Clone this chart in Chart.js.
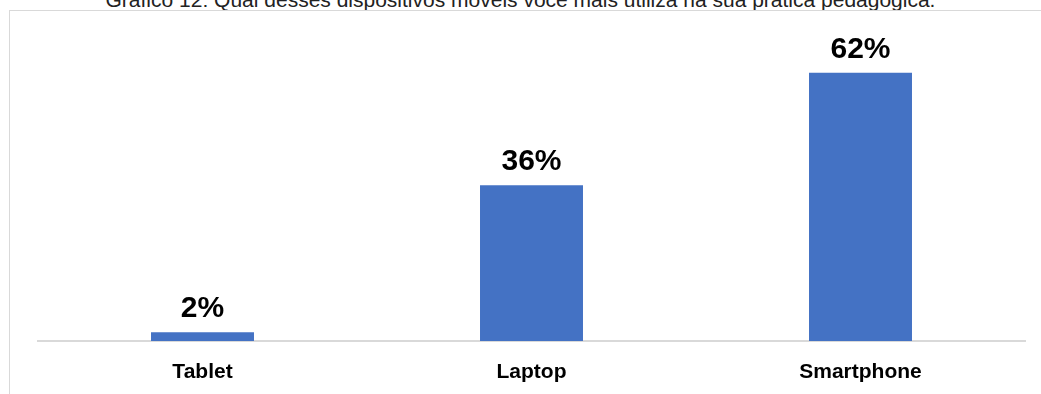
<!DOCTYPE html>
<html><head><meta charset="utf-8">
<script src="https://cdn.jsdelivr.net/npm/chart.js@4"></script>
<style>
html,body{margin:0;padding:0;background:#fff;overflow:hidden;}
#title{position:absolute;left:0;top:-12px;width:1041px;text-align:center;font:21px "Liberation Sans",Arial,sans-serif;color:#222;white-space:nowrap;}
#frame{position:absolute;left:9px;top:10px;width:1100px;height:500px;border:1px solid #d9d9d9;box-sizing:border-box;}
#wrap{position:absolute;left:0;top:0;width:1041px;height:394px;}
</style></head>
<body>
<div id="title">Gráfico 12: Qual desses dispositivos móveis você mais utiliza na sua prática pedagógica.</div>
<div id="frame"></div>
<div id="wrap"><canvas id="c" width="1041" height="394"></canvas></div>
<script>
const categories = ["Tablet", "Laptop", "Smartphone"];
const values = [2, 36, 62];
const valueLabels = ["2%", "36%", "62%"];

const labelPlugin = {
  id: 'barLabels',
  afterDatasetsDraw(chart) {
    const ctx = chart.ctx;
    const meta = chart.getDatasetMeta(0);
    ctx.save();
    ctx.font = 'bold 30px "Liberation Sans", Arial, sans-serif';
    ctx.fillStyle = '#000';
    ctx.textAlign = 'center';
    ctx.textBaseline = 'alphabetic';
    meta.data.forEach((bar, i) => {
      ctx.fillText(valueLabels[i], bar.x, bar.y - 15);
    });
    ctx.restore();
  }
};

new Chart(document.getElementById('c'), {
  type: 'bar',
  data: {
    labels: categories,
    datasets: [{
      data: values,
      backgroundColor: '#4472c4',
      barPercentage: 0.626,
      categoryPercentage: 0.5
    }]
  },
  options: {
    responsive: false,
    animation: false,
    layout: { padding: { left: 38, right: 16, top: 38, bottom: 0 } },
    plugins: { legend: { display: false }, tooltip: { enabled: false } },
    scales: {
      x: {
        grid: { display: false, drawTicks: false },
        border: { display: true, color: '#d9d9d9', width: 2 },
        ticks: { color: '#000', padding: 19, font: { family: '"Liberation Sans", Arial, sans-serif', size: 21, weight: 'bold' } },
        afterFit(scale) { scale.height = 53; }
      },
      y: {
        display: false,
        min: 0,
        max: 70
      }
    }
  },
  plugins: [labelPlugin]
});
</script>
</body></html>
